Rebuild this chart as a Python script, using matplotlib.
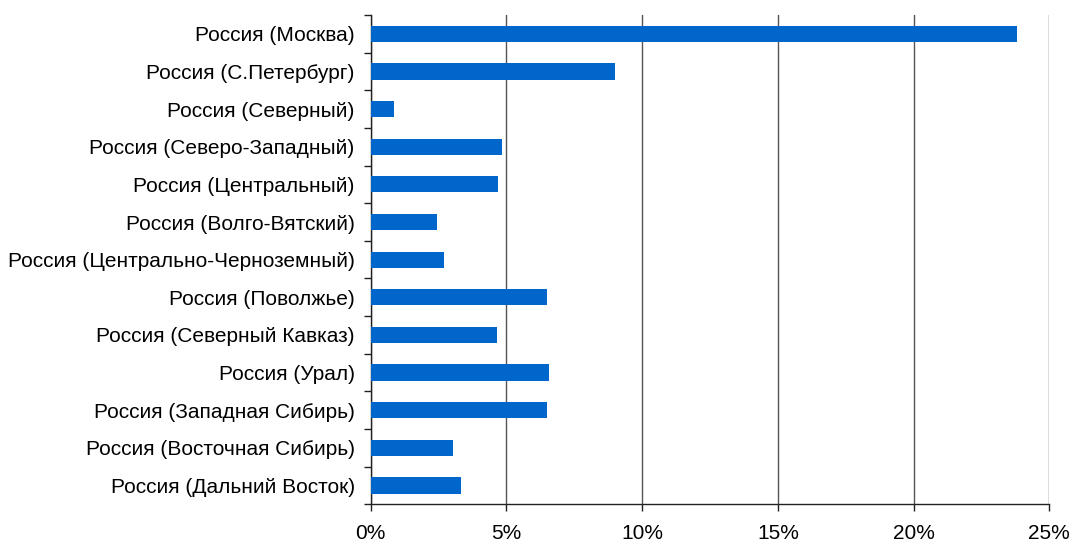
import matplotlib
matplotlib.use("Agg")
import matplotlib.pyplot as plt
import numpy as np
from matplotlib.ticker import FuncFormatter, FixedLocator

plt.rcParams['font.family'] = ['Liberation Sans', 'DejaVu Sans']

categories = [
    "Россия (Москва)",
    "Россия (С.Петербург)",
    "Россия (Северный)",
    "Россия (Северо-Западный)",
    "Россия (Центральный)",
    "Россия (Волго-Вятский)",
    "Россия (Центрально-Черноземный)",
    "Россия (Поволжье)",
    "Россия (Северный Кавказ)",
    "Россия (Урал)",
    "Россия (Западная Сибирь)",
    "Россия (Восточная Сибирь)",
    "Россия (Дальний Восток)",
]
values = [23.8, 9.0, 0.86, 4.84, 4.69, 2.44, 2.70, 6.50, 4.65, 6.57, 6.50, 3.03, 3.33]
xticks = [0, 5, 10, 15, 20, 25]

fig = plt.figure(figsize=(10.73, 5.43), dpi=100)
ax = fig.add_axes([370.7 / 1073, 1 - 504.3 / 543, (1049.3 - 370.7) / 1073, (504.3 - 15) / 543])

n = len(categories)
y = np.arange(n)
ax.barh(y, values, height=0.43, color='#0066CC', zorder=3)
ax.set_ylim(n - 0.5, -0.5)
ax.set_xlim(0, 25)

ax.set_yticks(y)
ax.set_yticklabels(categories, fontsize=15)
ax.yaxis.set_minor_locator(FixedLocator(np.arange(-0.5, n, 1.0)))
ax.tick_params(axis='y', which='major', length=0, pad=11.5)
ax.tick_params(axis='y', which='minor', length=5, width=1, color='#222222', direction='out')

ax.set_xticks(xticks)
ax.xaxis.set_major_formatter(FuncFormatter(lambda v, p: f"{int(v)}%"))
ax.tick_params(axis='x', length=5, width=1, color='#222222', direction='out', labelsize=15, pad=9)

ax.grid(axis='x', color='#555555', linewidth=1, zorder=0)
for s in ['top', 'right']:
    ax.spines[s].set_visible(False)
for s in ['left', 'bottom']:
    ax.spines[s].set_color('#222222')
    ax.spines[s].set_linewidth(1)

fig.savefig("out.png", dpi=100)
